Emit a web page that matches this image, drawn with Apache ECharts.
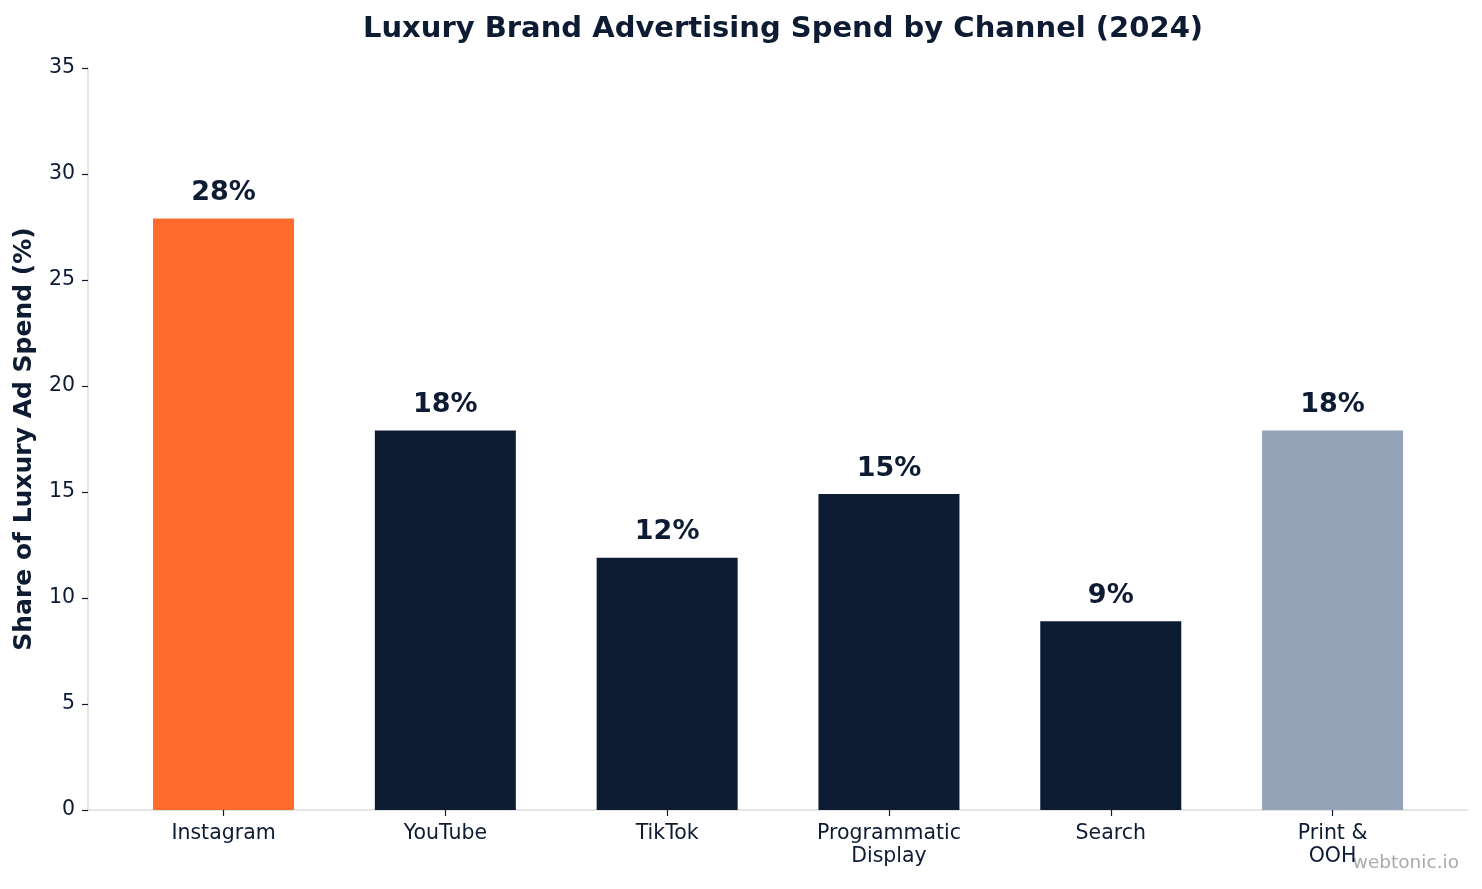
<!DOCTYPE html>
<html><head><meta charset="utf-8">
<script src="https://cdn.jsdelivr.net/npm/echarts@6/dist/echarts.min.js"></script>
<style>html,body{margin:0;padding:0;background:#fff}#c{width:1482px;height:889px}</style>
</head><body><div id="c"></div>
<script>
const categories = ['Instagram','YouTube','TikTok','Programmatic\nDisplay','Search','Print &\nOOH'];
const values = [27.9, 17.9, 11.9, 14.9, 8.9, 17.9];
const labels = ['28%','18%','12%','15%','9%','18%'];
const colors = ['#FF6B2C','#0D1B33','#0D1B33','#0D1B33','#0D1B33','#94A3B8'];
const yTicks = [0,5,10,15,20,25,30,35];

const chart = echarts.init(document.getElementById('c'));
const font = 'DejaVu Sans';
chart.setOption({
  animation:false,
  textStyle:{fontFamily:font},
  title:{text:'Luxury Brand Advertising Spend by Channel (2024)',left:778,textAlign:'center',top:10,
    textStyle:{fontFamily:font,fontSize:29,fontWeight:'bold',color:'#0D1B33'}},
  graphic:[{type:'text',right:23,bottom:16,style:{text:'webtonic.io',fontFamily:font,fontSize:18.5,fill:'#AAAAAA'}}],
  grid:{left:88,right:15,top:68,bottom:79},
  xAxis:{type:'value',min:-0.611,max:5.606,
    axisLine:{show:true,onZero:false,lineStyle:{color:'#DDDDDD',width:1.5}},
    axisTick:{show:true,customValues:[0,1,2,3,4,5],length:6,lineStyle:{color:'#0D1B33',width:1.2}},
    axisLabel:{customValues:[0,1,2,3,4,5],formatter:v=>categories[Math.round(v)],fontSize:20.5,color:'#0D1B33',margin:12,lineHeight:23,fontFamily:font},
    splitLine:{show:false}},
  yAxis:{type:'value',min:0,max:35,interval:5,
    name:'Share of Luxury Ad Spend (%)',nameLocation:'middle',nameGap:51,nameRotate:90,
    nameTextStyle:{fontFamily:font,fontSize:25,fontWeight:'bold',color:'#0D1B33'},
    axisLine:{show:true,onZero:false,lineStyle:{color:'#DDDDDD',width:1.5}},
    axisTick:{show:true,length:6,lineStyle:{color:'#0D1B33',width:1.2}},
    axisLabel:{fontSize:20.5,color:'#0D1B33',margin:13,fontFamily:font},
    splitLine:{show:false}},
  series:[{type:'bar',barWidth:141,
    data:values.map((v,i)=>({value:[i,v],itemStyle:{color:colors[i]},label:{formatter:labels[i]}})),
    label:{show:true,position:'top',distance:12,fontFamily:font,fontSize:27,fontWeight:'bold',color:'#0D1B33'}}]
});
</script></body></html>
